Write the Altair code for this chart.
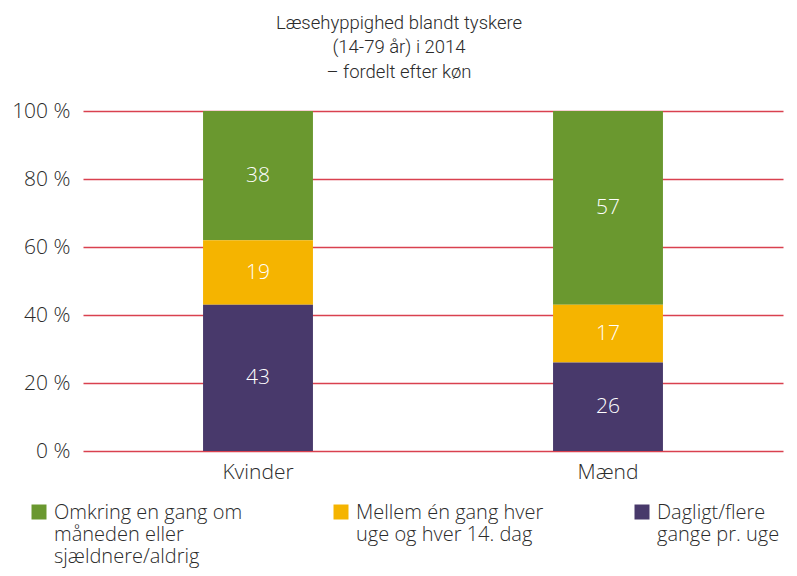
import altair as alt
import pandas as pd

genders = ["Kvinder", "Mænd"]
categories = [
    "Omkring en gang om|måneden eller|sjældnere/aldrig",
    "Mellem én gang hver|uge og hver 14. dag| ",
    "Dagligt/flere|gange pr. uge| ",
]
stack_rank = [3, 2, 1]
colors = ["#6a982f", "#f5b400", "#48396b"]
values = {
    "Kvinder": [38, 19, 43],
    "Mænd": [57, 17, 26],
}
y_ticks = [0, 20, 40, 60, 80, 100]
title_lines = ["Læsehyppighed blandt tyskere", "(14-79 år) i 2014", "– fordelt efter køn"]

rows = []
for g in genders:
    for c, r, v in zip(categories, stack_rank, values[g]):
        rows.append({"kon": g, "kategori": c, "rank": r, "value": v})
df = pd.DataFrame(rows)

FONT = "Open Sans"
TFONT = "Roboto"
TXT = "#2b2b2b"

base = alt.Chart(df).transform_stack(
    stack="value", groupby=["kon"], as_=["y0", "y1"], sort=[alt.SortField("rank")]
).transform_calculate(mid="(datum.y0 + datum.y1) / 2")

x = alt.X(
    "kon:N",
    sort=genders,
    title=None,
    scale=alt.Scale(paddingInner=0.686, paddingOuter=0.343),
    axis=alt.Axis(labelAngle=0, domain=False, ticks=False, labelPadding=10,
                  labelFontSize=21, labelFont=FONT, labelFontWeight=300, labelColor=TXT),
)

bars = base.mark_bar().encode(
    x=x,
    y=alt.Y(
        "y0:Q",
        scale=alt.Scale(domain=[0, 100], nice=False),
        title=None,
        axis=alt.Axis(values=y_ticks, labelExpr="datum.value + ' %'", domain=False, ticks=False,
                      grid=True, gridColor="#d9414f", gridWidth=1.4, labelPadding=13,
                      labelFontSize=21, labelFont=FONT, labelFontWeight=300, labelColor=TXT),
    ),
    y2="y1:Q",
    color=alt.Color(
        "kategori:N",
        sort=categories,
        scale=alt.Scale(domain=categories, range=colors),
        legend=alt.Legend(
            title=None, orient="none", legendX=-54, legendY=382, direction="horizontal",
            columns=3, columnPadding=88, symbolType="M-1,0.2H1V2.2H-1Z", symbolSize=225,
            symbolStrokeWidth=0, symbolOpacity=1, labelFontSize=20, labelFont=FONT,
            labelFontWeight=300, labelColor=TXT, labelLimit=400, labelOffset=5,
            labelExpr="split(datum.label, '|')", labelBaseline="top",
        ),
    ),
)

labels = base.mark_text(color="white", fontSize=21, font=FONT, fontWeight=300).encode(
    x=alt.X("kon:N", sort=genders),
    y=alt.Y("mid:Q"),
    text=alt.Text("value:Q"),
)

chart = (bars + labels).properties(
    width=700,
    height=340,
    title=alt.Title(
        title_lines, anchor="middle", fontSize=18.5, font=TFONT, fontWeight=300,
        color=TXT, lineHeight=24.5, offset=19, dx=-34,
    ),
    autosize=alt.AutoSizeParams(type="none"),
    padding={"left": 75, "top": 103, "right": 6, "bottom": 117},
).configure_view(stroke=None)

chart.save("out.html", embed_options={"renderer": "svg", "actions": False})
